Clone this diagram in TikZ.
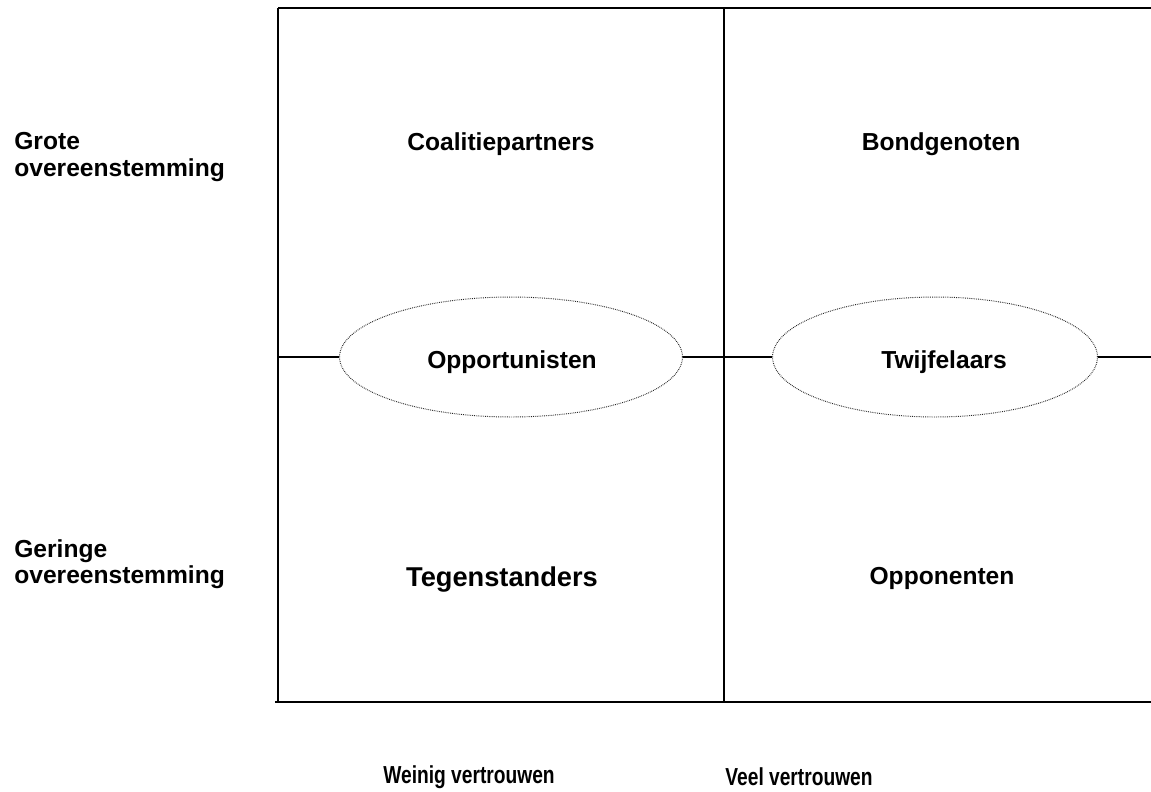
\documentclass[tikz,border=0pt]{standalone}
\usepackage{fontspec}
\setmainfont{Liberation Sans}
\usetikzlibrary{shapes.geometric, positioning}
\newcommand{\narrowtext}[1]{\scalebox{0.78}[1]{#1}}
\tikzset{
    quad_lbl/.style={
        font=\fontsize{14}{15}\selectfont\bfseries, inner sep=0pt, align=center
    },
    side_lbl/.style={
        font=\fontsize{14}{15}\selectfont\bfseries, inner sep=0pt, align=left, anchor=west
    },
    group_oval/.style={
        ellipse, draw=black!85, line width=0.55pt, dash pattern=on 0.45pt off 0.6pt,
        minimum height=2.4cm, inner sep=0pt
    },
    frame_line/.style={draw=black, line width=0.8pt}
}

\begin{document}
\begin{tikzpicture}[x=0.02cm, y=-0.02cm]
    \useasboundingbox (0,0) rectangle (1151,791);

    % Frame corners
    \coordinate (tl) at (278,8);
    \coordinate (tm) at (724,8);
    \coordinate (tr) at (1151,8);
    \coordinate (bl) at (275,702);
    \coordinate (bm) at (724,702);
    \coordinate (br) at (1151,702);
    \coordinate (ml) at (278,357);
    \coordinate (mr) at (1151,357);

    % Two groups on the middle line
    \node[group_oval, minimum width=6.86cm] (opp) at (511,357) {};
    \node[group_oval, minimum width=6.5cm] (twijf) at (935,357) {};
    \node[quad_lbl] (oppt) at (512,362) {Opportunisten};
    \node[quad_lbl] (twijft) at (944,362) {Twijfelaars};

    % Outer frame and divider
    \draw[frame_line] (tl) -- (tr);
    \draw[frame_line, line width=0.6pt] (tl) -- (278,702);
    \draw[frame_line, line width=1pt] (tm) -- (bm);
    \draw[frame_line, line width=1.2pt] (bl) -- (br);

    % Middle line interrupted by the ovals
    \draw[frame_line, line width=0.9pt] (ml) -- (opp.west);
    \draw[frame_line, line width=0.9pt] (opp.east) -- (twijf.west);
    \draw[frame_line, line width=0.9pt] (twijf.east) -- (mr);

    % Quadrant labels
    \node[quad_lbl] (coal) at (501,144) {Coalitiepartners};
    \node[quad_lbl] (bond) at (941,144) {Bondgenoten};
    \node[quad_lbl, font=\fontsize{15.5}{17}\selectfont\bfseries] (tegen) at (502,580) {Tegenstanders};
    \node[quad_lbl] (oppon) at (942,578) {Opponenten};

    % Row labels
    \node[side_lbl] (grote) at (14,157) {Grote\\overeenstemming};
    \node[side_lbl] (geringe) at (14,564) {Geringe\\overeenstemming};

    % Column labels
    \node[quad_lbl] (weinig) at (469,777) {\narrowtext{Weinig vertrouwen}};
    \node[quad_lbl] (veel) at (799,777) {\narrowtext{Veel vertrouwen}};
\end{tikzpicture}
\end{document}
